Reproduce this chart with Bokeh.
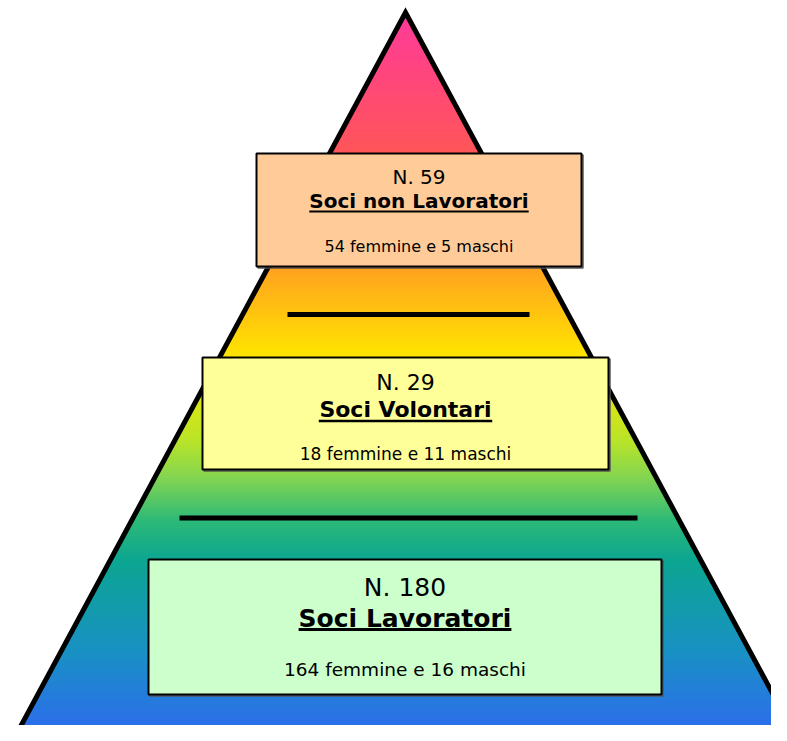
from bokeh.plotting import figure
from bokeh.models import Range1d
from bokeh.core.properties import value
from bokeh.embed import file_html
from bokeh.resources import INLINE

# ---------------- data ----------------
levels = ["Soci non Lavoratori", "Soci Volontari", "Soci Lavoratori"]
counts = [59, 29, 180]
females = [54, 18, 164]
males = [5, 11, 16]

# ---------------- layout / style (reference pixel space) ----------------
apex = (405, 12)
base_y = 741
half_base = 393
box_l = [256, 202, 148]
box_r = [581, 608, 661]
box_t = [153, 357, 559]
box_b = [266, 469, 694]
box_fill = ["#FFCC99", "#FFFF99", "#CCFFCC"]
num_y = [176.5, 381.5, 586.5]
title_y = [200.5, 409, 617.5]
ul_y = [211, 420.5, 629]
sub_y = [246, 453, 668.5]
num_size = [20, 22, 25]
title_size = [20, 22, 25]
sub_size = [16, 17, 18.5]
ul_w = [2, 2.5, 3]
sep_x0 = [287, 179]
sep_x1 = [529, 637]
sep_y = [314, 517.5]

grad_y = [12, 150, 265, 355, 440, 475, 520, 560, 650, 741]
grad_c = [(255, 58, 154), (255, 85, 90), (255, 160, 32), (255, 228, 0),
          (185, 228, 40), (135, 214, 80), (45, 185, 120), (12, 165, 145),
          (25, 145, 195), (48, 104, 242)]

FONT = "DejaVu Sans"
bold_w = {"S": .720, "o": .687, "c": .593, "i": .343, " ": .348, "n": .712,
          "L": .637, "a": .675, "v": .652, "r": .493, "t": .478, "V": .774,
          "l": .343}


def color_at(y):
    for k in range(len(grad_y) - 1):
        if grad_y[k] <= y <= grad_y[k + 1]:
            f = (y - grad_y[k]) / (grad_y[k + 1] - grad_y[k])
            c0, c1 = grad_c[k], grad_c[k + 1]
            r, g, b = (round(c0[i] + (c1[i] - c0[i]) * f) for i in range(3))
            return "#%02x%02x%02x" % (r, g, b)
    return "#%02x%02x%02x" % grad_c[-1]


def half_at(y):
    return half_base * (y - apex[1]) / (base_y - apex[1])


p = figure(width=771, height=725, x_range=Range1d(0, 771), y_range=Range1d(725, 0),
           output_backend="svg", toolbar_location=None, min_border=0)
p.axis.visible = False
p.grid.visible = False
p.outline_line_color = None
p.background_fill_color = "white"
p.border_fill_color = "white"

# gradient-filled pyramid made of thin horizontal trapezoids
xs, ys, cols = [], [], []
y = apex[1]
while y < base_y:
    y0, y1 = y, min(y + 2, base_y)
    h0, h1 = half_at(y0), half_at(y1)
    xs.append([apex[0] - h0, apex[0] + h0, apex[0] + h1, apex[0] - h1])
    ys.append([y0, y0, y1, y1])
    cols.append(color_at(y0 + 0.5))
    y += 1
p.patches(xs, ys, fill_color=cols, line_color=None)

# outline
p.patch([apex[0], apex[0] + half_base, apex[0] - half_base],
        [apex[1], base_y, base_y], fill_color=None, line_color="black",
        line_width=5, line_join="miter")

# separator lines
p.segment(x0=sep_x0, y0=sep_y, x1=sep_x1, y1=sep_y, line_color="black", line_width=5)

# boxes
p.quad(left=[l + 1.5 for l in box_l], right=[r + 1.5 for r in box_r],
       top=[t + 1.5 for t in box_t], bottom=[b + 1.5 for b in box_b],
       fill_color=None, line_color="#555555", line_width=1.5)
p.quad(left=box_l, right=box_r, top=box_t, bottom=box_b,
       fill_color=box_fill, line_color="black", line_width=2)

for i in range(3):
    cx = (box_l[i] + box_r[i]) / 2
    p.text(x=[cx], y=[num_y[i]], text=["N. %d" % counts[i]],
           text_font=value(FONT), text_font_size="%gpx" % num_size[i],
           text_align="center", text_baseline="middle", text_color="black")
    p.text(x=[cx], y=[title_y[i]], text=[levels[i]],
           text_font=value(FONT), text_font_style="bold",
           text_font_size="%gpx" % title_size[i],
           text_align="center", text_baseline="middle", text_color="black")
    w = sum(bold_w.get(ch, .7) for ch in levels[i]) * title_size[i]
    p.segment(x0=[cx - w / 2], y0=[ul_y[i]], x1=[cx + w / 2], y1=[ul_y[i]],
              line_color="black", line_width=ul_w[i])
    p.text(x=[cx], y=[sub_y[i]],
           text=["%d femmine e %d maschi" % (females[i], males[i])],
           text_font=value(FONT), text_font_size="%gpx" % sub_size[i],
           text_align="center", text_baseline="middle", text_color="black")

open("out.html", "w").write(file_html(p, INLINE))
